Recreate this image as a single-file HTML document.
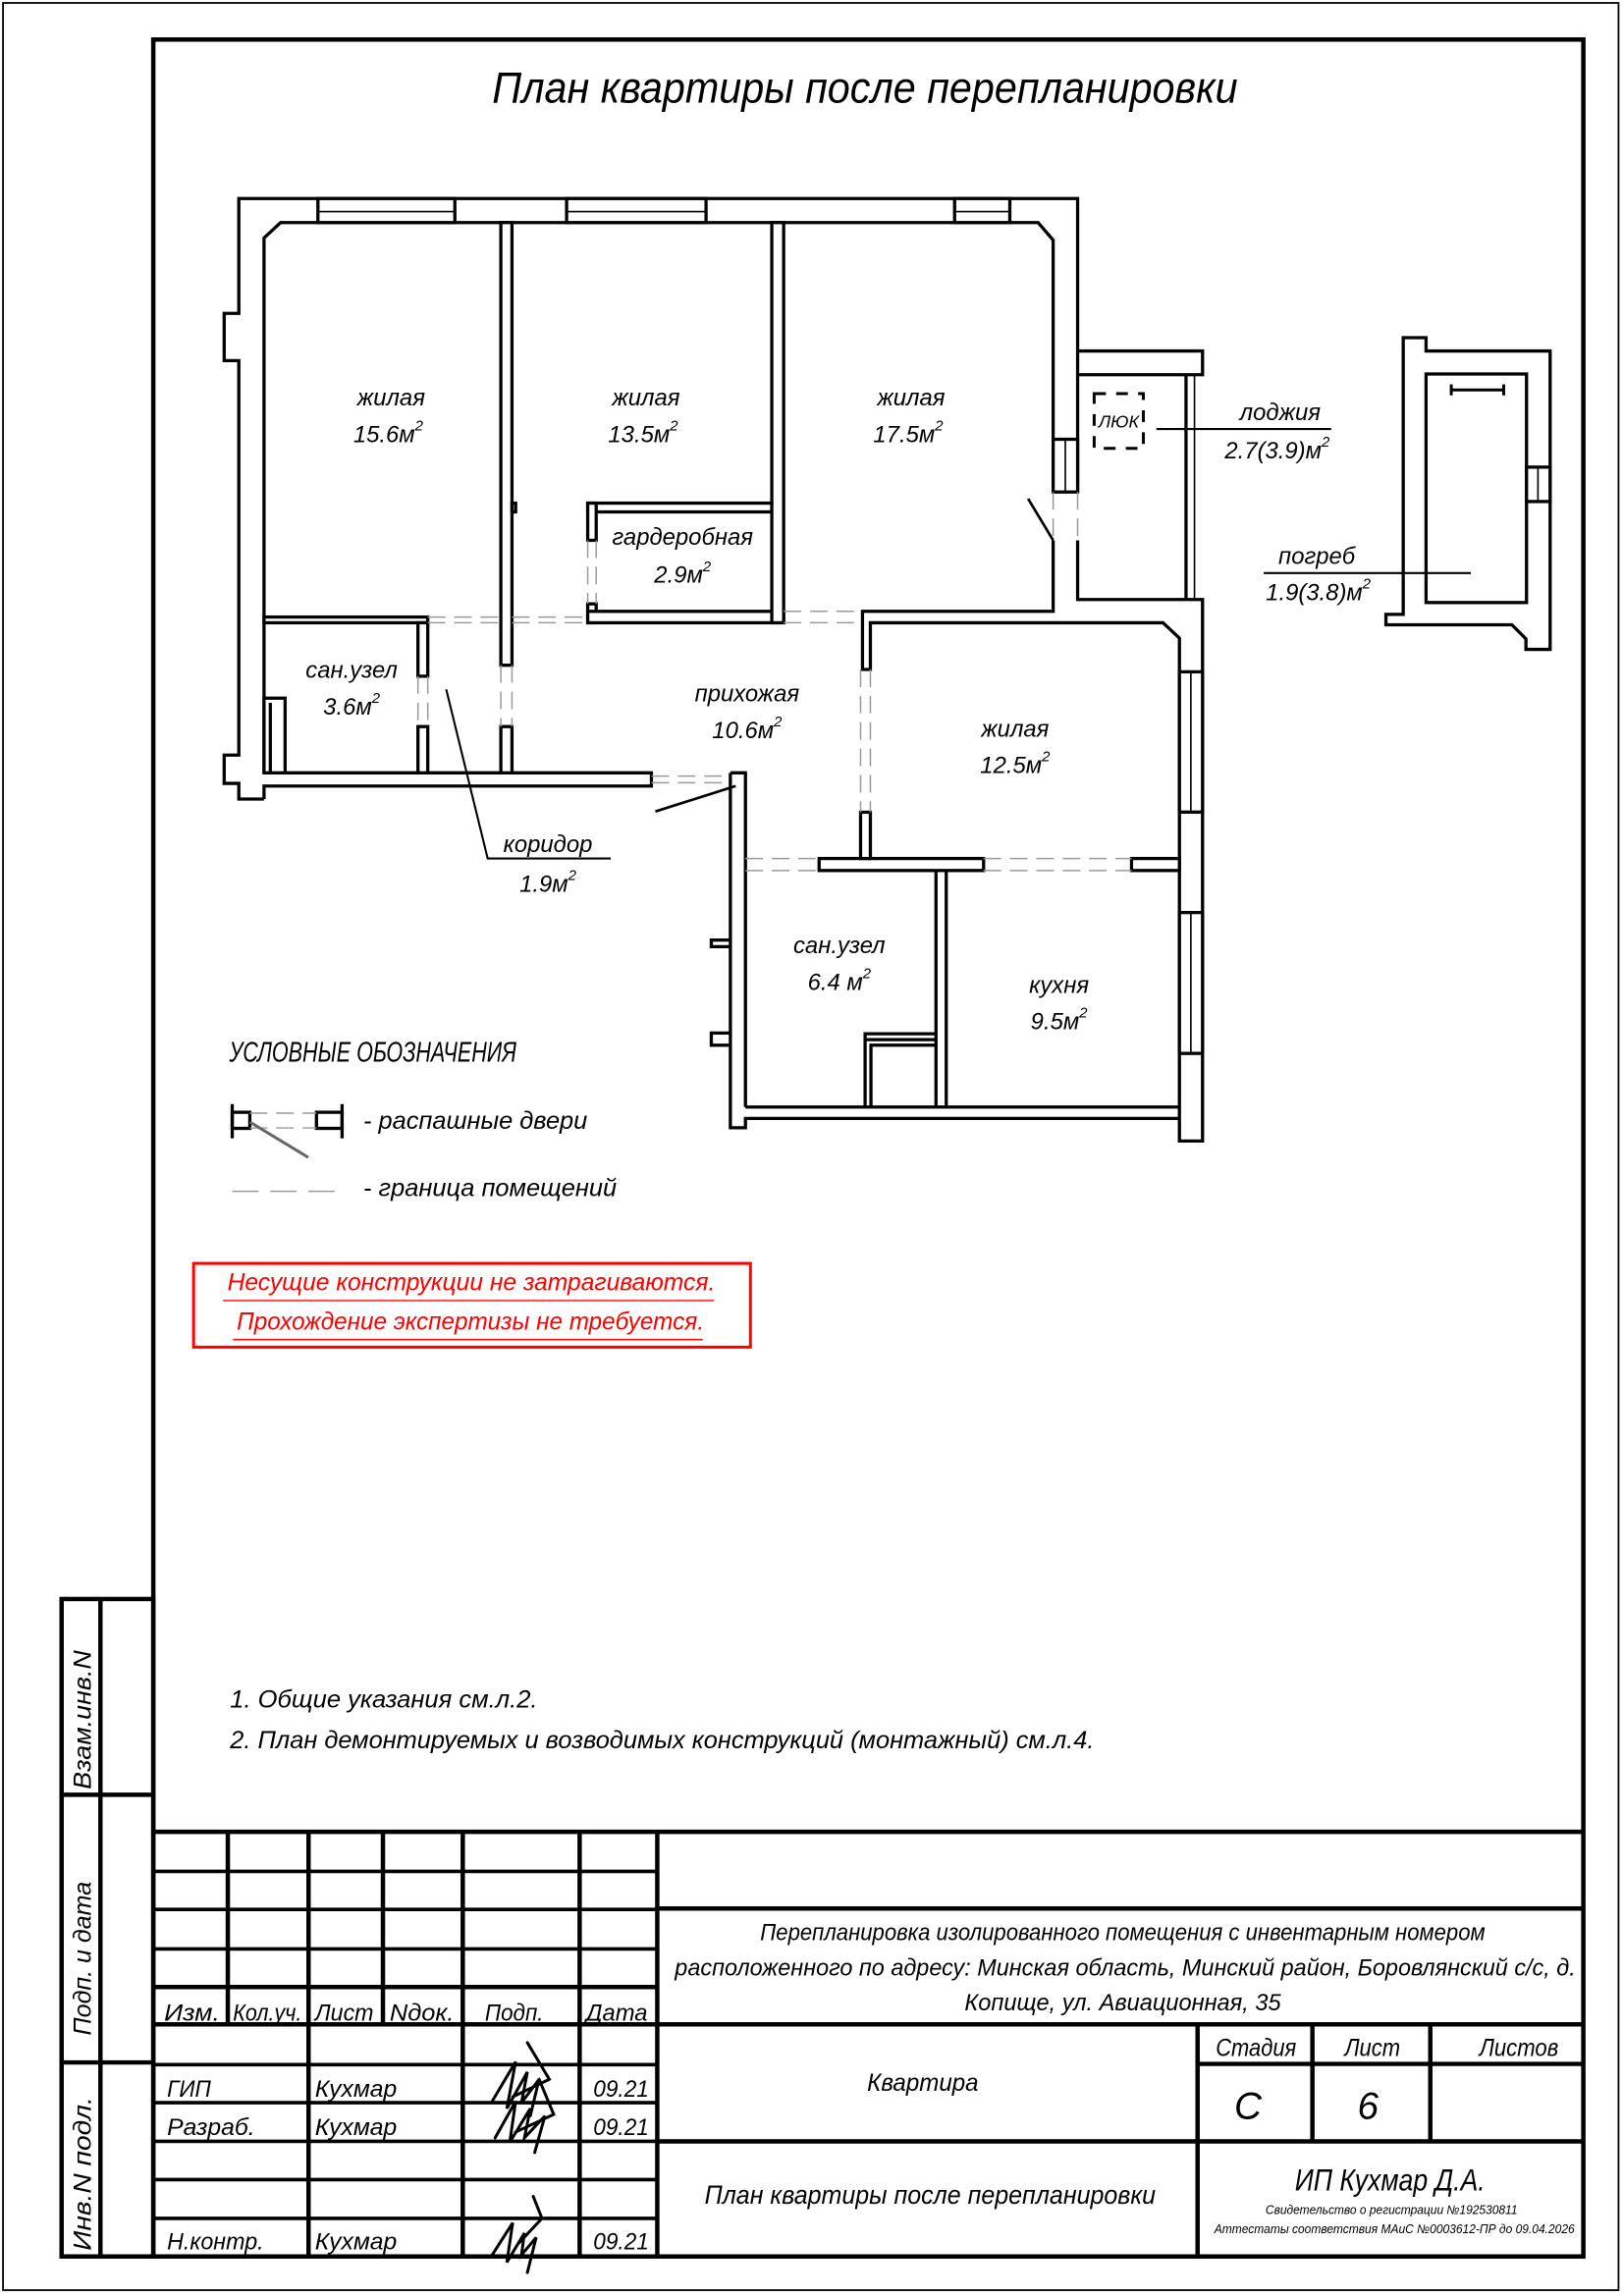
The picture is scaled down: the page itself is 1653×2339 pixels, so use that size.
<!DOCTYPE html>
<html><head><meta charset="utf-8"><style>
html,body{margin:0;padding:0;background:#fff}
svg{display:block}
text{font-family:"Liberation Sans","DejaVu Sans",sans-serif;font-style:italic;fill:#000}
</style></head><body>
<svg width="1653" height="2339" viewBox="0 0 1108 1568" xmlns="http://www.w3.org/2000/svg">
<rect x="0" y="0" width="1108" height="1568" fill="#fff"/>
<!-- page border & frame -->
<rect x="2" y="2" width="1103" height="1562" fill="none" stroke="#000" stroke-width="1.2"/>
<rect x="104.6" y="27" width="976.4" height="1514" fill="none" stroke="#000" stroke-width="3"/>
<g fill="none" stroke="#000" stroke-width="3">
<rect x="42" y="1092" width="62.6" height="449"/>
<line x1="68.5" y1="1092" x2="68.5" y2="1541"/>
<line x1="42" y1="1225.7" x2="104.6" y2="1225.7"/>
<line x1="42" y1="1408.5" x2="104.6" y2="1408.5"/>
</g>
<text transform="translate(62,1222) rotate(-90)" font-size="17" textLength="95" lengthAdjust="spacingAndGlyphs">Взам.инв.N</text>
<text transform="translate(62,1390) rotate(-90)" font-size="17" textLength="105" lengthAdjust="spacingAndGlyphs">Подп. и дата</text>
<text transform="translate(62,1537) rotate(-90)" font-size="17" textLength="105" lengthAdjust="spacingAndGlyphs">Инв.N подл.</text>

<!-- Title -->
<text x="336" y="70" font-size="30" textLength="509" lengthAdjust="spacingAndGlyphs">План квартиры после перепланировки</text>

<!-- FLOOR PLAN -->
<g fill="none" stroke="#000" stroke-width="2.2" stroke-linejoin="miter">
<path d="M180.2,545.7 H163 V535 H153 V515.7 H163 V246.3 H153 V214 H163 V135.6 H735.7 V336"/>
<path d="M735.7,369 V409.4 H821 V779.2 H805.2 V763.8"/>
<path d="M735.7,239.7 H821 V255.9 H735.7"/>
<path d="M809.7,255.9 V409.4"/>
<path d="M180.2,527.8 V162.5 L191.5,152 H708.7 L719,164 V336"/>
<path d="M180.2,527.8 H444.7 V536.8 H180.2 V545.7"/>
<path d="M719,369 V417.5 H588.8 V457.2 H594.2 V425.3 H794 L805.2,435.8 V763.8"/>
<!-- windows top -->
<rect x="217" y="135.6" width="93.5" height="16.4" fill="#fff"/>
<rect x="386.8" y="135.6" width="95.2" height="16.4" fill="#fff"/>
<rect x="651.7" y="135.6" width="37.7" height="16.4" fill="#fff"/>
<!-- window right of 17.5 -->
<rect x="719" y="300" width="16.7" height="36" fill="#fff"/>
<!-- right windows -->
<rect x="805.2" y="458.8" width="15.8" height="95.8" fill="#fff"/>
<rect x="805.2" y="623.2" width="15.8" height="96.2" fill="#fff"/>
<!-- lower block -->
<rect x="559.2" y="586.3" width="112.3" height="8.2" fill="#fff"/>
<rect x="772.5" y="586.3" width="32.7" height="8.2" fill="#fff"/>
<rect x="587.5" y="554.7" width="6.7" height="31.6" fill="#fff"/>
<path d="M508.9,756 V536.8 M498.6,527.8 H508.9 V536.8 M498.6,527.8 V770.2 H508.9 V763.8 H805.2 M508.9,756 H805.2"/>
<rect x="485.6" y="642" width="13" height="4.5" fill="#fff"/>
<rect x="485.6" y="705.5" width="13" height="8.3" fill="#fff"/>
<path d="M639,594.5 V756 M646,594.5 V756"/>
<path d="M590.6,756 V706 H639 M594.6,756 V713.8 H639 M590.6,710 H639"/>
<!-- san.uzel 3.6 -->
<rect x="180.2" y="421.4" width="111.8" height="3.9" fill="#fff"/>
<rect x="285.3" y="425.3" width="6.7" height="36.5" fill="#fff"/>
<rect x="285.3" y="496.2" width="6.7" height="31.6" fill="#fff"/>
<rect x="180.2" y="476.8" width="14.4" height="51" fill="#fff"/>
<line x1="184.5" y1="480" x2="184.5" y2="527.8"/>
<!-- wall 15.6/13.5 -->
<rect x="341.9" y="152" width="7.6" height="302.3" fill="#fff"/>
<rect x="341.9" y="496.2" width="7.6" height="31.6" fill="#fff"/>
<rect x="349.5" y="343.6" width="2.5" height="6" fill="#fff"/>
<!-- garderob -->
<rect x="401.2" y="343.6" width="125.7" height="6" fill="#fff"/>
<rect x="401.2" y="343.6" width="5.8" height="25.4" fill="#fff"/>
<rect x="401.2" y="412.4" width="5.8" height="12.9" fill="#fff"/>
<rect x="401.2" y="417.5" width="133.8" height="7.8" fill="#fff"/>
<rect x="526.9" y="152" width="8.1" height="273.3" fill="#fff"/>
<!-- pogreb -->
<path d="M958,230.6 H973.6 V239.7 H1058.3 V443.5 H1041.8 V436.3 L1032.2,426.7 H946.2 V419.6 H958 Z"/>
<rect x="973.6" y="255.4" width="68.6" height="156.1"/>
<rect x="1042.2" y="319" width="16.1" height="23.5" fill="#fff"/>
</g>
<g stroke="#000" stroke-width="1.1" fill="none">
<path d="M217,144.5 H310.5 M386.8,144.5 H482 M651.7,144.5 H689.4 M727.3,300 V336 M813,458.8 V554.6 M813,623.2 V719.4 M815.5,255.9 V409.4 M1050,319 V342.5"/>
</g>
<!-- pogreb ladder -->
<g stroke="#000" stroke-width="2">
<line x1="990.8" y1="266.3" x2="1026.6" y2="266.3"/>
<line x1="990.8" y1="262.5" x2="990.8" y2="270"/>
<line x1="1026.6" y1="262.5" x2="1026.6" y2="270"/>
</g>
<!-- dashed boundaries -->
<g stroke="#9a9a9a" stroke-width="1" stroke-dasharray="12,6" fill="none">
<path d="M292,421.4 H341.9 M292,425.3 H341.9 M349.5,421.4 H401.2 M349.5,425.3 H401.2"/>
<path d="M535,417.5 H588.8 M535,425.3 H588.8"/>
<path d="M285.3,461.8 V496.2 M292,461.8 V496.2 M341.9,454.3 V496.2 M349.5,454.3 V496.2"/>
<path d="M401.2,369 V412.4 M407,369 V412.4"/>
<path d="M719,336 V369 M735.7,336 V369"/>
<path d="M587.5,457.2 V554.7 M594.2,457.2 V554.7"/>
<path d="M508.9,586.3 H559.2 M508.9,594.5 H559.2 M671.5,586.3 H772.5 M671.5,594.5 H772.5"/>
<path d="M444.7,530 H498.6 M444.7,534.5 H498.6"/>
</g>
<!-- door swings & leaders -->
<g stroke="#000" stroke-width="1.8" fill="none">
<line x1="701.9" y1="340.6" x2="719" y2="369"/>
<line x1="447.4" y1="554.2" x2="502.2" y2="536.8"/>
<polyline points="304.6,470.8 332.9,586.3 416.9,586.3" stroke-width="1.4"/>
<line x1="789.5" y1="293" x2="908.8" y2="293" stroke-width="1.4"/>
<line x1="862.8" y1="391.4" x2="1004.2" y2="391.4" stroke-width="1.4"/>
<rect x="747" y="268.8" width="33.6" height="37.4" stroke-width="2" stroke-dasharray="8,7"/>
</g>
<text x="763.8" y="292" font-size="12" text-anchor="middle">ЛЮК</text>

<!-- room labels -->
<g font-size="16" text-anchor="middle">
<text x="267" y="277">жилая</text><text x="265" y="302">15.6м<tspan font-size="10" dy="-8">2</tspan></text>
<text x="441" y="277">жилая</text><text x="439" y="302">13.5м<tspan font-size="10" dy="-8">2</tspan></text>
<text x="622" y="277">жилая</text><text x="620" y="302">17.5м<tspan font-size="10" dy="-8">2</tspan></text>
<text x="466" y="372">гардеробная</text><text x="466" y="398">2.9м<tspan font-size="10" dy="-8">2</tspan></text>
<text x="240" y="463">сан.узел</text><text x="240" y="488">3.6м<tspan font-size="10" dy="-8">2</tspan></text>
<text x="510" y="479">прихожая</text><text x="510" y="504">10.6м<tspan font-size="10" dy="-8">2</tspan></text>
<text x="693" y="503">жилая</text><text x="693" y="528">12.5м<tspan font-size="10" dy="-8">2</tspan></text>
<text x="573" y="651">сан.узел</text><text x="573" y="676">6.4 м<tspan font-size="10" dy="-8">2</tspan></text>
<text x="723" y="678">кухня</text><text x="723" y="703">9.5м<tspan font-size="10" dy="-8">2</tspan></text>
<text x="374" y="582">коридор</text><text x="374" y="609">1.9м<tspan font-size="10" dy="-8">2</tspan></text>
<text x="874" y="287">лоджия</text><text x="872" y="313">2.7(3.9)м<tspan font-size="10" dy="-8">2</tspan></text>
<text x="899" y="385">погреб</text><text x="900" y="410">1.9(3.8)м<tspan font-size="10" dy="-8">2</tspan></text>
</g>

<!-- legend -->
<text x="156.5" y="725" font-size="19" font-style="normal" textLength="196" lengthAdjust="spacingAndGlyphs">УСЛОВНЫЕ ОБОЗНАЧЕНИЯ</text>
<g stroke="#000" stroke-width="2.2" fill="#fff">
<rect x="158.5" y="759.6" width="12" height="11"/>
<rect x="216" y="759.6" width="17.5" height="11"/>
<line x1="158.5" y1="754" x2="158.5" y2="777.4"/>
<line x1="233.5" y1="754" x2="233.5" y2="777.4"/>
</g>
<g stroke="#9a9a9a" stroke-width="1" stroke-dasharray="12,6">
<line x1="170.5" y1="760.2" x2="216" y2="760.2"/>
<line x1="170.5" y1="770.3" x2="216" y2="770.3"/>
<line x1="158.5" y1="813.6" x2="233.5" y2="813.6" stroke-dasharray="18,8"/>
</g>
<line x1="170.6" y1="766.3" x2="210.4" y2="790.4" stroke="#666" stroke-width="2"/>
<text x="248" y="771" font-size="17" textLength="153" lengthAdjust="spacingAndGlyphs">- распашные двери</text>
<text x="248" y="817" font-size="17" textLength="173" lengthAdjust="spacingAndGlyphs">- граница помещений</text>

<!-- red box -->
<rect x="132.1" y="862.8" width="380.2" height="57.2" fill="none" stroke="#ff0000" stroke-width="2"/>
<text x="155.2" y="881.3" font-size="17" style="fill:#ff0000" textLength="333" lengthAdjust="spacingAndGlyphs">Несущие конструкции не затрагиваются.</text>
<line x1="152.2" y1="888.2" x2="487.4" y2="888.2" stroke="#ff0000" stroke-width="1"/>
<text x="161.6" y="908" font-size="17" style="fill:#ff0000" textLength="319" lengthAdjust="spacingAndGlyphs">Прохождение экспертизы не требуется.</text>
<line x1="159" y1="914.8" x2="479.7" y2="914.8" stroke="#ff0000" stroke-width="1"/>

<!-- notes -->
<text x="157" y="1166" font-size="17" textLength="210" lengthAdjust="spacingAndGlyphs">1. Общие указания см.л.2.</text>
<text x="157" y="1194" font-size="17" textLength="590" lengthAdjust="spacingAndGlyphs">2. План демонтируемых и возводимых конструкций (монтажный) см.л.4.</text>

<!-- TITLE BLOCK -->
<g stroke="#000" stroke-width="3" fill="none">
<line x1="104.6" y1="1251" x2="1081" y2="1251"/>
<line x1="448.7" y1="1303.4" x2="1081" y2="1303.4"/>
<line x1="104.6" y1="1382.5" x2="1081" y2="1382.5"/>
<line x1="448.7" y1="1462.4" x2="1081" y2="1462.4"/>
<line x1="104.6" y1="1357" x2="448.7" y2="1357"/>
<line x1="448.7" y1="1251" x2="448.7" y2="1541"/>
<line x1="817.6" y1="1382.5" x2="817.6" y2="1541"/>
<line x1="896" y1="1382.5" x2="896" y2="1462.4"/>
<line x1="976.5" y1="1382.5" x2="976.5" y2="1462.4"/>
<line x1="817.6" y1="1409.5" x2="1081" y2="1409.5"/>
<line x1="210.6" y1="1251" x2="210.6" y2="1541"/>
<line x1="315.9" y1="1251" x2="315.9" y2="1541"/>
<line x1="395.7" y1="1251" x2="395.7" y2="1541"/>
<line x1="155.5" y1="1251" x2="155.5" y2="1382.5"/>
<line x1="261.4" y1="1251" x2="261.4" y2="1382.5"/>
</g>
<g stroke="#000" stroke-width="2.4">
<line x1="104.6" y1="1278" x2="448.7" y2="1278"/>
<line x1="104.6" y1="1304" x2="448.7" y2="1304"/>
<line x1="104.6" y1="1331" x2="448.7" y2="1331"/>
<line x1="104.6" y1="1410" x2="448.7" y2="1410"/>
<line x1="104.6" y1="1436" x2="448.7" y2="1436"/>
<line x1="104.6" y1="1462.4" x2="448.7" y2="1462.4"/>
<line x1="104.6" y1="1488.5" x2="448.7" y2="1488.5"/>
<line x1="104.6" y1="1515" x2="448.7" y2="1515"/>
</g>
<g font-size="16">
<text x="112" y="1380" textLength="38" lengthAdjust="spacingAndGlyphs">Изм.</text>
<text x="159" y="1380" textLength="47" lengthAdjust="spacingAndGlyphs">Кол.уч.</text>
<text x="215" y="1380" textLength="40" lengthAdjust="spacingAndGlyphs">Лист</text>
<text x="266" y="1380" textLength="44" lengthAdjust="spacingAndGlyphs">Nдок.</text>
<text x="331" y="1380" textLength="40" lengthAdjust="spacingAndGlyphs">Подп.</text>
<text x="400" y="1380" textLength="42" lengthAdjust="spacingAndGlyphs">Дата</text>
<text x="114" y="1432" textLength="30" lengthAdjust="spacingAndGlyphs">ГИП</text>
<text x="215" y="1432" textLength="56" lengthAdjust="spacingAndGlyphs">Кухмар</text>
<text x="405" y="1432" textLength="38" lengthAdjust="spacingAndGlyphs">09.21</text>
<text x="114" y="1458" textLength="60" lengthAdjust="spacingAndGlyphs">Разраб.</text>
<text x="215" y="1458" textLength="56" lengthAdjust="spacingAndGlyphs">Кухмар</text>
<text x="405" y="1458" textLength="38" lengthAdjust="spacingAndGlyphs">09.21</text>
<text x="114" y="1536" textLength="66" lengthAdjust="spacingAndGlyphs">Н.контр.</text>
<text x="215" y="1536" textLength="56" lengthAdjust="spacingAndGlyphs">Кухмар</text>
<text x="405" y="1536" textLength="38" lengthAdjust="spacingAndGlyphs">09.21</text>
<text x="519" y="1325" textLength="495" lengthAdjust="spacingAndGlyphs">Перепланировка изолированного помещения с инвентарным номером</text>
<text x="460.7" y="1349" textLength="615" lengthAdjust="spacingAndGlyphs">расположенного по адресу: Минская область, Минский район, Боровлянский с/с, д.</text>
<text x="658.5" y="1373" textLength="216" lengthAdjust="spacingAndGlyphs">Копище, ул. Авиационная, 35</text>
<text x="592" y="1428" font-size="17" textLength="76" lengthAdjust="spacingAndGlyphs">Квартира</text>
<text x="830" y="1404" font-size="17" textLength="55" lengthAdjust="spacingAndGlyphs">Стадия</text>
<text x="918" y="1404" font-size="17" textLength="38" lengthAdjust="spacingAndGlyphs">Лист</text>
<text x="1010" y="1404" font-size="17" textLength="54" lengthAdjust="spacingAndGlyphs">Листов</text>
<text x="852" y="1447" font-size="26" text-anchor="middle">С</text>
<text x="934" y="1447" font-size="26" text-anchor="middle">6</text>
<text x="481" y="1505" font-size="18" textLength="308" lengthAdjust="spacingAndGlyphs">План квартиры после перепланировки</text>
<text x="884" y="1496" font-size="21" textLength="130" lengthAdjust="spacingAndGlyphs">ИП Кухмар Д.А.</text>
<text x="864" y="1512" font-size="8.5" textLength="172" lengthAdjust="spacingAndGlyphs">Свидетельство о регистрации №192530811</text>
<text x="829" y="1525" font-size="8.5" textLength="246" lengthAdjust="spacingAndGlyphs">Аттестаты соответствия МАиС №0003612-ПР до 09.04.2026</text>
</g>
<!-- signatures -->
<g stroke="#000" stroke-width="2" fill="none" stroke-linecap="round">
<path d="M336,1435 L352,1408 L346,1440 L360,1415 L356,1436 L368,1420 L362,1445 M350,1432 L375,1420 L360,1395"/>
<path d="M338,1460 L352,1435 L348,1463 L362,1440 L358,1460 L372,1445 L365,1470 M352,1456 L378,1444 L368,1420"/>
<path d="M336,1540 L350,1518 L346,1545 L358,1525 L356,1540 L366,1528 L360,1552 M354,1532 L370,1515 L364,1500"/>
</g>
</svg>
</body></html>
